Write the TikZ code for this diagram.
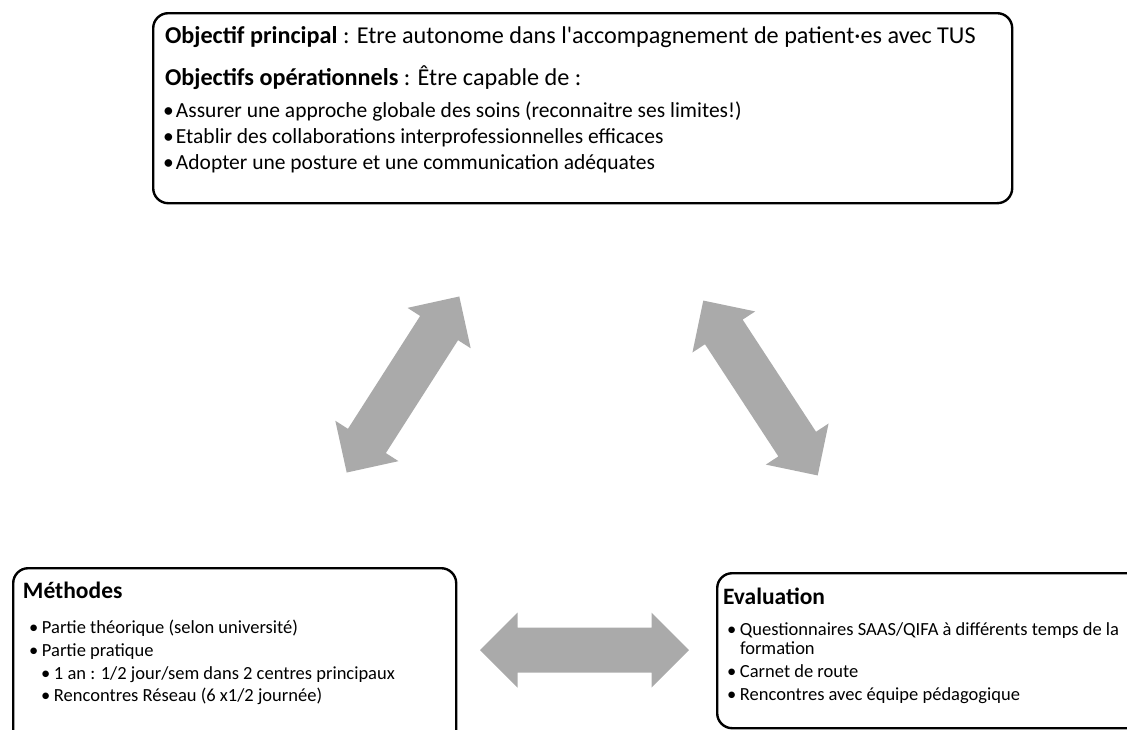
\documentclass[tikz,border=0pt]{standalone}
\usepackage{fontspec}
\setmainfont{Carlito}[Ligatures=TeXOff]
\definecolor{arrowgray}{RGB}{170,170,170}
\newcommand{\itembul}[1]{\makebox[#1][l]{•}}
\tikzset{
  panel/.style={draw=black, line width=2.4pt, rounded corners=15pt,
    anchor=north west, inner sep=0pt},
  txt/.style={anchor=base west, inner sep=0pt, outer sep=0pt},
  leadline/.style={txt, font=\fontsize{24.2}{28}\selectfont},
  topitem/.style={txt, font=\fontsize{21.5}{25}\selectfont},
  boxtitle/.style={txt, font=\fontsize{23.5}{28}\selectfont\bfseries},
  boxitem/.style={txt, font=\fontsize{18.5}{22}\selectfont},
  pics/dblarrow/.style={code={
    \fill[arrowgray] (-104.5,0) -- (-67,37.5) -- (-67,22.5) -- (67,22.5)
      -- (67,37.5) -- (104.5,0) -- (67,-37.5) -- (67,-22.5) -- (-67,-22.5)
      -- (-67,-37.5) -- cycle;
  }}
}
\begin{document}
\begin{tikzpicture}[x=1pt,y=1pt]
  \path[use as bounding box] (0,0) rectangle (1127,-729);
  \clip (0,0) rectangle (1127,-729);

  % frames
  \node[panel, minimum width=859pt, minimum height=190pt] (goals) at (152,-12) {};
  \node[panel, minimum width=443pt, minimum height=185pt] (methods) at (12,-567) {};
  \node[panel, minimum width=430pt, minimum height=155pt] (evaluation) at (716,-572) {};

  % objectives
  \node[leadline] (goalA) at (165,-43) {\textbf{Objectif principal} : Etre autonome dans l'accompagnement de patient·es avec TUS};
  \node[leadline] (goalB) at (165,-85) {\textbf{Objectifs opérationnels} : Être capable de :};
  \node[topitem] (goalC) at (163,-117) {\itembul{13pt}Assurer une approche globale des soins (reconnaitre ses limites!)};
  \node[topitem] (goalD) at (163,-143) {\itembul{13pt}Etablir des collaborations interprofessionnelles efficaces};
  \node[topitem] (goalE) at (163,-169) {\itembul{13pt}Adopter une posture et une communication adéquates};

  % methods
  \node[boxtitle] (methT) at (23,-598) {Méthodes};
  \node[boxitem] (methA) at (29,-633) {\itembul{13pt}Partie théorique (selon université)};
  \node[boxitem] (methB) at (29,-656) {\itembul{13pt}Partie pratique};
  \node[boxitem] (methC) at (41,-679) {\itembul{13pt}1 an : 1/2 jour/sem dans 2 centres principaux};
  \node[boxitem] (methD) at (41,-701) {\itembul{13pt}Rencontres Réseau (6 x1/2 journée)};

  % evaluation
  \node[boxtitle] (evalT) at (723,-604) {Evaluation};
  \node[boxitem] (evalA) at (727,-635) {\itembul{13pt}Questionnaires SAAS/QIFA à différents temps de la};
  \node[boxitem] (evalA2) at (740,-654) {formation};
  \node[boxitem] (evalB) at (727,-677) {\itembul{13pt}Carnet de route};
  \node[boxitem] (evalC) at (727,-700) {\itembul{13pt}Rencontres avec équipe pédagogique};

  % two-way block arrows between the three frames
  \pic[rotate=57.4] at (403,-384.5) {dblarrow};
  \pic[rotate=-56.8] at (760.5,-388) {dblarrow};
  \pic at (584.5,-650) {dblarrow};
\end{tikzpicture}
\end{document}
